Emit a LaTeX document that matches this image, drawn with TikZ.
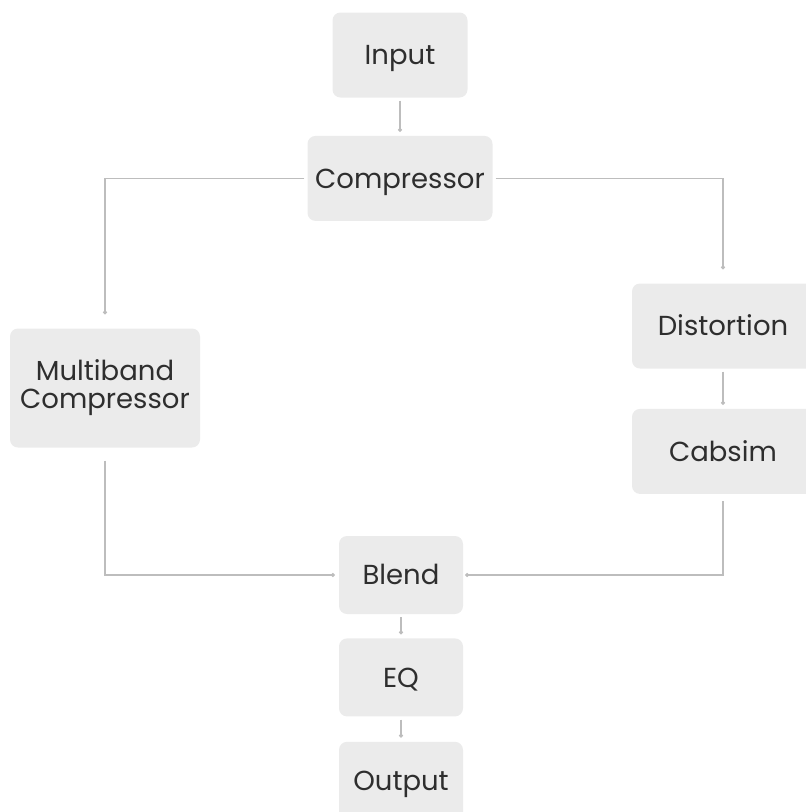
\documentclass[tikz,border=0pt]{standalone}
\usepackage{fontspec}
\setmainfont{Poppins}
\usepackage{tikz}
\usetikzlibrary{positioning}
\usetikzlibrary{arrows.meta}
\definecolor{boxgray}{HTML}{EBEBEB}
\definecolor{linegray}{HTML}{BDBDBD}
\definecolor{textgray}{HTML}{2E2E2E}
\tikzset{
    fxbox/.style={fill=boxgray, rounded corners=8pt, inner sep=0pt, align=center,
        text=textgray, font=\fontsize{27.5}{28}\selectfont},
    onebox/.style={fxbox, text height=19.5pt, text depth=0pt},
    sigline/.style={draw=linegray, line width=1.6pt, -{Circle[length=3.8pt,fill=linegray!85!black]},
        shorten <=3pt, shorten >=4pt}
}

\begin{document}
\begin{tikzpicture}[x=1pt,y=-1pt]
            \useasboundingbox (0,0) rectangle (806,812);

            \node (in)   [onebox, minimum width=135pt, minimum height=85pt] at (400,55)   {Input};
            \node (comp) [onebox, minimum width=185pt, minimum height=85pt, below=38pt of in] {Compressor};
            \node (dist) [onebox, minimum width=182pt, minimum height=85pt] at (723,326)  {Distortion};
            \node (cab)  [onebox, minimum width=182pt, minimum height=85pt, below=40pt of dist] {Cabsim};
            \node (mb)   [fxbox, minimum width=190pt, minimum height=119pt] at (105,388) {Multiband\\Compressor};
            \node (bl)   [onebox, minimum width=124pt, minimum height=78pt] at (401,575)  {Blend};
            \node (eq)   [onebox, minimum width=124pt, minimum height=78pt, below=24pt of bl] {EQ};
            \node (out)  [onebox, minimum width=124pt, minimum height=78pt, below=25pt of eq] {Output};

            \draw[sigline] (in) -- (comp);
            \draw[sigline, shorten >=14pt] (comp.west) -| (mb.north);
            \draw[sigline, shorten >=14pt] (comp.east) -| (dist.north);
            \draw[sigline] (dist) -- (cab);
            \draw[sigline, shorten <=13pt] (mb.south) |- (bl.west);
            \draw[sigline, shorten <=7pt, shorten >=2pt] (cab.south) |- (bl.east);
            \draw[sigline] (bl) -- (eq);
            \draw[sigline] (eq) -- (out);
        \end{tikzpicture}
\end{document}
